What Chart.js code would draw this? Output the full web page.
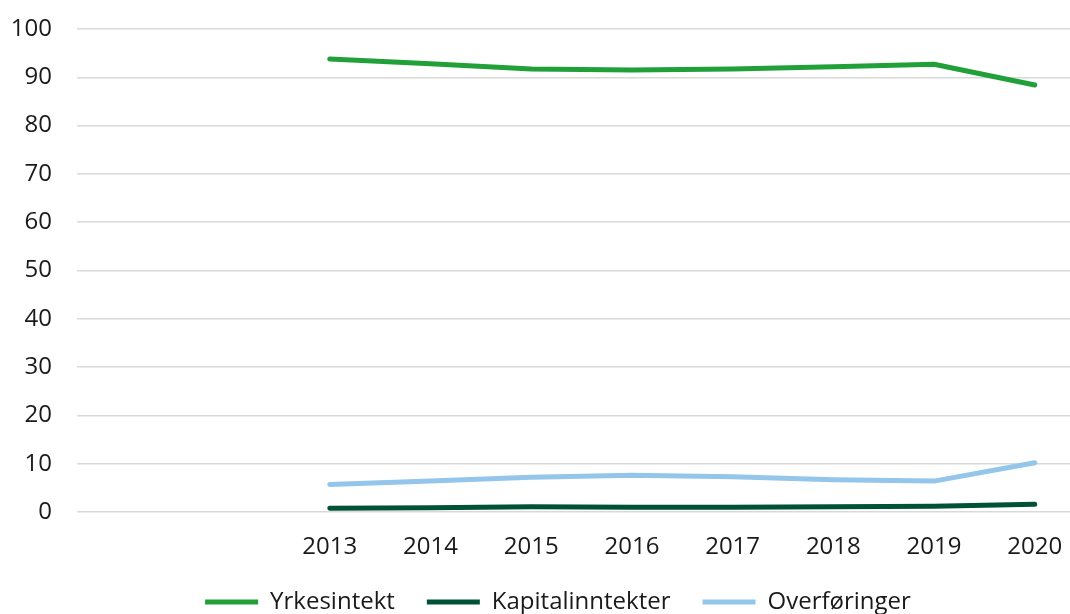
<!DOCTYPE html>
<html>
<head>
<meta charset="utf-8">
<script src="https://cdn.jsdelivr.net/npm/chart.js@4/dist/chart.umd.min.js"></script>
<style>
html,body{margin:0;padding:0;background:#fff;overflow:hidden;}
#wrap{position:relative;width:1070px;height:624px;}
</style>
</head>
<body>
<div id="wrap"><canvas id="c"></canvas></div>
<script>
const years = [2013, 2014, 2015, 2016, 2017, 2018, 2019, 2020];
const yrkesintekt = [93.8, 92.8, 91.7, 91.5, 91.7, 92.2, 92.7, 88.4];
const kapitalinntekter = [0.8, 0.9, 1.1, 1.0, 1.0, 1.1, 1.2, 1.6];
const overforinger = [5.7, 6.4, 7.2, 7.6, 7.3, 6.7, 6.4, 10.2];
const yTicks = [0, 10, 20, 30, 40, 50, 60, 70, 80, 90, 100];

const FONT = "'Open Sans', 'Noto Sans', sans-serif";
const pts = arr => years.map((y, i) => ({x: y, y: arr[i]}));
const mk = (label, arr, color) => ({
  label, data: pts(arr), borderColor: color, backgroundColor: color,
  borderWidth: 5, borderCapStyle: 'round', borderJoinStyle: 'round',
  pointRadius: 0, pointStyle: 'line', tension: 0, fill: false
});

const shiftLegend = {
  id: 'shiftLegend',
  afterLayout(chart) {
    if (chart.legend) { chart.legend.left += 23; chart.legend.right += 23; }
  }
};

new Chart(document.getElementById('c'), {
  type: 'line',
  data: {
    datasets: [
      mk('Yrkesintekt', yrkesintekt, '#21a03a'),
      mk('Kapitalinntekter', kapitalinntekter, '#005237'),
      mk('Overføringer', overforinger, '#93c6ea')
    ]
  },
  plugins: [shiftLegend],
  options: {
    responsive: true,
    maintainAspectRatio: false,
    animation: false,
    layout: {padding: {left: 0, top: 29, right: 0, bottom: 0}},
    plugins: {
      tooltip: {enabled: false},
      legend: {
        position: 'bottom',
        labels: {
          usePointStyle: true, pointStyleWidth: 53, boxHeight: 5,
          padding: 32,
          color: '#1a1a1a',
          font: {family: FONT, size: 24}
        }
      }
    },
    scales: {
      x: {
        type: 'linear',
        min: 2010.49, max: 2020.35,
        afterBuildTicks: axis => { axis.ticks = years.map(v => ({value: v})); },
        afterFit: axis => { axis.height = 46; axis.paddingLeft = 0; axis.paddingRight = 0; },
        grid: {display: false, drawTicks: false},
        border: {display: false},
        ticks: {
          color: '#1a1a1a', padding: 21, maxRotation: 0, autoSkip: false,
          font: {family: FONT, size: 24},
          callback: v => String(v)
        }
      },
      y: {
        min: 0, max: 100,
        afterBuildTicks: axis => { axis.ticks = yTicks.map(v => ({value: v})); },
        afterFit: axis => { axis.width = 77; axis.paddingTop = 0; axis.paddingBottom = 0; },
        grid: {color: '#d9d9d9', lineWidth: 1.5, drawTicks: false},
        border: {display: false},
        ticks: {
          color: '#1a1a1a', padding: 25,
          font: {family: FONT, size: 24}
        }
      }
    }
  }
});
</script>
</body>
</html>
